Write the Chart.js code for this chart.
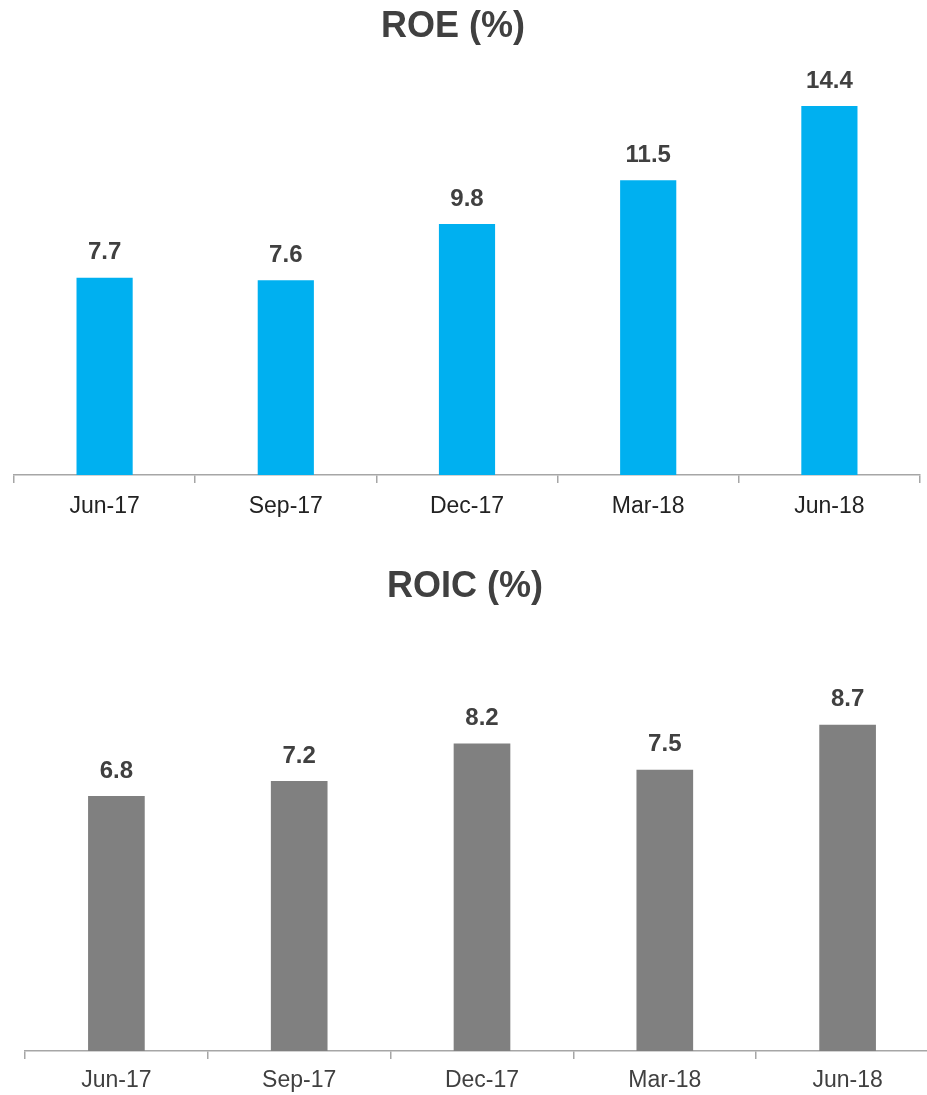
<!DOCTYPE html>
<html lang="en">
<head>
    <meta charset="UTF-8">
    <title>ROE / ROIC</title>
    <script src="https://cdn.jsdelivr.net/npm/chart.js"></script>
    <style>
        body {
            margin: 0;
            width: 927px;
            height: 1095px;
            overflow: hidden;
            position: relative;
            background: #fff;
            font-family: "Liberation Sans", Arial, sans-serif;
        }
        .titulo {
            position: absolute;
            left: 0;
            height: 50px;
            line-height: 50px;
            text-align: center;
            font-size: 36px;
            font-weight: bold;
            color: #404040;
            z-index: 2;
        }
        #roe-titulo { top: 0; width: 906px; }
        #roic-titulo { top: 560px; width: 930px; }
        .chart-box { position: absolute; left: 0; }
        #roe-box { top: 0; width: 927px; height: 540px; }
        #roic-box { top: 560px; width: 960px; height: 535px; }
    </style>
</head>
<body>
    <div class="titulo" id="roe-titulo">ROE (%)</div>
    <div class="titulo" id="roic-titulo">ROIC (%)</div>
    <div class="chart-box" id="roe-box"><canvas id="roeChart"></canvas></div>
    <div class="chart-box" id="roic-box"><canvas id="roicChart"></canvas></div>

    <script>
        const categorias = ['Jun-17', 'Sep-17', 'Dec-17', 'Mar-18', 'Jun-18'];
        const valoresROE = [7.7, 7.6, 9.8, 11.5, 14.4];
        const valoresROIC = [6.8, 7.2, 8.2, 7.5, 8.7];

        // dibuja el valor encima de cada barra
        const etiquetasValor = {
            id: 'etiquetasValor',
            afterDatasetsDraw(chart) {
                const ctx = chart.ctx;
                ctx.save();
                ctx.font = 'bold 24px "Liberation Sans", Arial, sans-serif';
                ctx.fillStyle = '#404040';
                ctx.textAlign = 'center';
                ctx.textBaseline = 'middle';
                chart.getDatasetMeta(0).data.forEach((bar, i) => {
                    const valor = chart.data.datasets[0].data[i];
                    ctx.fillText(valor.toFixed(1), bar.x, bar.y - 25);
                });
                ctx.restore();
            }
        };

        function crearGrafico(id, valores, color, colorTexto, padding, maxY, padTicks) {
            const ctx = document.getElementById(id).getContext('2d');
            return new Chart(ctx, {
                type: 'bar',
                data: {
                    labels: categorias,
                    datasets: [{
                        data: valores,
                        backgroundColor: color,
                        barPercentage: 0.31,
                        categoryPercentage: 1
                    }]
                },
                options: {
                    responsive: true,
                    maintainAspectRatio: false,
                    animation: false,
                    layout: { padding: padding },
                    plugins: {
                        legend: { display: false },
                        tooltip: { enabled: false }
                    },
                    scales: {
                        x: {
                            afterFit: (scale) => { scale.height = 42; },
                            border: { display: true, color: '#a6a6a6', width: 1.5 },
                            grid: {
                                drawOnChartArea: false,
                                drawTicks: true,
                                tickLength: 8,
                                color: '#a6a6a6',
                                lineWidth: 1.5
                            },
                            ticks: {
                                color: colorTexto,
                                padding: padTicks,
                                font: { family: '"Liberation Sans", Arial, sans-serif', size: 23 }
                            }
                        },
                        y: {
                            display: false,
                            min: 0,
                            max: maxY
                        }
                    }
                },
                plugins: [etiquetasValor]
            });
        }

        crearGrafico('roeChart', valoresROE, '#00b0f0', '#222222',
            { left: 14, right: 7, top: 65, bottom: 23 }, 16, 10);
        crearGrafico('roicChart', valoresROIC, '#808080', '#404040',
            { left: 25, right: 21, top: 116, bottom: 2 }, 10, 8);
    </script>
</body>
</html>
